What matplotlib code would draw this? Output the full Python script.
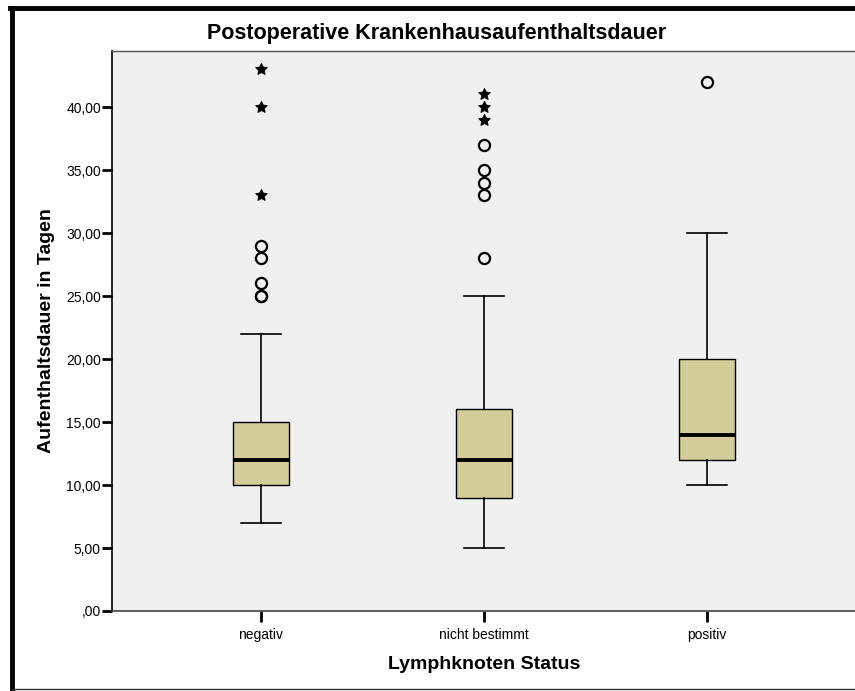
import numpy as np
import matplotlib.pyplot as plt
from matplotlib.lines import Line2D

categories = ['negativ', 'nicht bestimmt', 'positiv']
whislo = [7, 5, 10]
q1 = [10, 9, 12]
med = [12, 12, 14]
q3 = [15, 16, 20]
whishi = [22, 25, 30]
outliers_circle = [[25, 25, 26, 28, 29], [28, 33, 34, 35, 37], [42]]
outliers_star = [[33, 40, 43], [39, 40, 41], []]
yticks = [0, 5, 10, 15, 20, 25, 30, 35, 40]
ytick_labels = [',00', '5,00', '10,00', '15,00', '20,00', '25,00', '30,00', '35,00', '40,00']

plt.rcParams['font.family'] = ['Liberation Sans', 'DejaVu Sans']

fig = plt.figure(figsize=(8.55, 6.91), dpi=100)
ax = fig.add_axes([112/855, 80/691, 744/855, 560/691])
ax.set_facecolor('#f0f0f0')

pos = np.arange(1, len(categories) + 1)
stats = []
for i in range(len(categories)):
    stats.append(dict(whislo=whislo[i], q1=q1[i], med=med[i], q3=q3[i], whishi=whishi[i], fliers=[]))
ax.bxp(stats, positions=pos, widths=0.25, patch_artist=True, showfliers=False,
       boxprops=dict(facecolor='#d3cd98', edgecolor='black', linewidth=1.0),
       medianprops=dict(color='black', linewidth=2.8),
       whiskerprops=dict(color='black', linewidth=1.2),
       capprops=dict(color='black', linewidth=1.2),
       capwidths=0.18)

for i, p in enumerate(pos):
    c = outliers_circle[i]
    ax.plot([p]*len(c), c, 'o', ms=8, mfc='none', mec='black', mew=1.6, ls='none')
    s = outliers_star[i]
    ax.plot([p]*len(s), s, marker=(5, 1, 0), ms=9, color='black', mew=0.5, ls='none')

ax.set_xlim(1 - 0.668, 3 + 0.668)
ax.set_ylim(0, 44.45)
ax.set_yticks(yticks)
ax.set_yticklabels(ytick_labels)
ax.set_xticks(pos)
ax.set_xticklabels(categories)
ax.tick_params(axis='y', direction='out', length=7, width=2, labelsize=10, pad=1)
ax.tick_params(axis='x', direction='out', length=8, width=2, labelsize=10, pad=4)
for s in ['top', 'right']:
    ax.spines[s].set_color('#555555')
    ax.spines[s].set_linewidth(1)
ax.spines['left'].set_color('black')
ax.spines['left'].set_linewidth(1.2)
ax.spines['bottom'].set_color('#444444')
ax.spines['bottom'].set_linewidth(1.2)

ax.set_ylabel('Aufenthaltsdauer in Tagen', fontsize=14, fontweight='bold', labelpad=8)
ax.set_xlabel('Lymphknoten Status', fontsize=14, fontweight='bold', labelpad=10)
fig.text(437/855, 1 - 33/691, 'Postoperative Krankenhausaufenthaltsdauer', ha='center', va='center',
         fontsize=15.5, fontweight='bold')

# outer frame
fig.add_artist(Line2D([12/855, 12/855], [0, 1 - 8/691], color='black', lw=3.5, transform=fig.transFigure))
fig.add_artist(Line2D([10/855, 1], [1 - 8/691, 1 - 8/691], color='black', lw=3.5, transform=fig.transFigure))
fig.add_artist(Line2D([12/855, 1], [2/691, 2/691], color='#333333', lw=1, transform=fig.transFigure))

fig.savefig('out.png', dpi=100)
